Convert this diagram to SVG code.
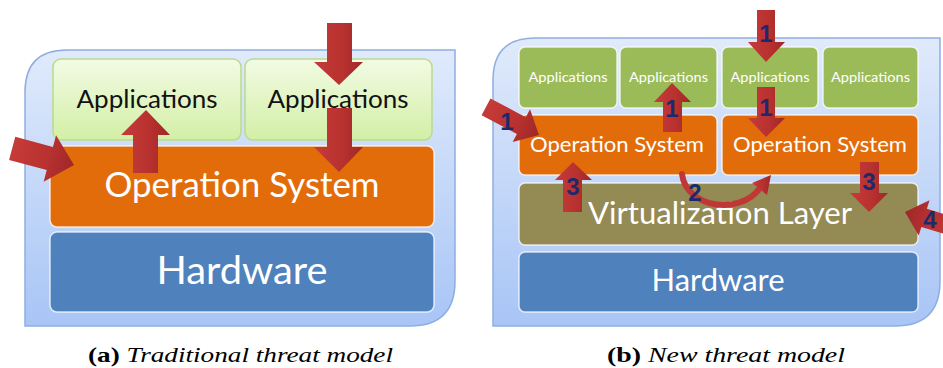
<svg xmlns="http://www.w3.org/2000/svg" width="943" height="368" viewBox="0 0 943 368">
  <defs>
    <linearGradient id="panelFill" x1="0" y1="0" x2="0" y2="1">
      <stop offset="0" stop-color="#e0eafb"/>
      <stop offset="1" stop-color="#a8c5f6"/>
    </linearGradient>
    <linearGradient id="appLight" x1="0" y1="0" x2="0" y2="1">
      <stop offset="0" stop-color="#f2fbe4"/>
      <stop offset="1" stop-color="#d3efa6"/>
    </linearGradient>
    <linearGradient id="arrowFill" x1="0" y1="0" x2="1" y2="0">
      <stop offset="0" stop-color="#c53b39"/>
      <stop offset="0.55" stop-color="#b93230"/>
      <stop offset="1" stop-color="#9f2728"/>
    </linearGradient>
  </defs>
  <style>
    .panel { fill: url(#panelFill); stroke: #8eaee0; stroke-width: 1.5; }
    .box { stroke: #ffffff; stroke-opacity: 0.75; stroke-width: 1.5; }
    .app-a { fill: url(#appLight); stroke: #b9dc8a; stroke-width: 1.5; }
    .app-b { fill: #9bbb59; }
    .os { fill: #e36c0a; }
    .virt { fill: #948a54; }
    .hw { fill: #4f81bd; }
    .lbl { font-family: Lato, "Open Sans", sans-serif; text-anchor: middle; fill: #ffffff; }
    .dark { fill: #111111; }
    .arrow { fill: url(#arrowFill); }
    .num { font-family: "Liberation Sans", Arial, sans-serif; font-weight: bold; font-size: 24px; fill: #1c2a6b; text-anchor: middle; }
    .cap { font-family: "Times New Roman", Times, "Liberation Serif", Tinos, "Noto Serif", serif; font-size: 21px; fill: #000000; }
  </style>

  <!-- (a) traditional stack -->
  <g id="panel-a">
    <path class="panel" d="M25,326 L25,92 Q25,50 67,50 L455,50 L455,281 Q455,326 410,326 Z"/>
  </g>
  <g id="a-app1">
    <rect class="app-a" x="53" y="59" width="188" height="81" rx="8"/>
    <text class="lbl dark" x="147" y="108" font-size="25" textLength="141" lengthAdjust="spacingAndGlyphs">Applications</text>
  </g>
  <g id="a-app2">
    <rect class="app-a" x="245" y="59" width="187" height="81" rx="8"/>
    <text class="lbl dark" x="338" y="108" font-size="25" textLength="141" lengthAdjust="spacingAndGlyphs">Applications</text>
  </g>
  <g id="a-os">
    <rect class="box os" x="50" y="146" width="384" height="81" rx="7"/>
    <text class="lbl" x="242" y="197" font-size="34" textLength="275" lengthAdjust="spacingAndGlyphs">Operation System</text>
  </g>
  <g id="a-hw">
    <rect class="box hw" x="50" y="232" width="384" height="80" rx="7"/>
    <text class="lbl" x="242" y="284" font-size="38" textLength="171" lengthAdjust="spacingAndGlyphs">Hardware</text>
  </g>

  <!-- (b) virtualised stack -->
  <g id="panel-b">
    <path class="panel" d="M493,326 L493,80 Q493,38 535,38 L940,38 L940,281 Q940,326 895,326 Z"/>
  </g>
  <g id="b-app1">
    <rect class="box app-b" x="519" y="47" width="98" height="61" rx="6"/>
    <text class="lbl" x="568" y="82" font-size="14" textLength="79" lengthAdjust="spacingAndGlyphs">Applications</text>
  </g>
  <g id="b-app2">
    <rect class="box app-b" x="620" y="47" width="97" height="61" rx="6"/>
    <text class="lbl" x="668.5" y="82" font-size="14" textLength="79" lengthAdjust="spacingAndGlyphs">Applications</text>
  </g>
  <g id="b-app3">
    <rect class="box app-b" x="722" y="47" width="96" height="61" rx="6"/>
    <text class="lbl" x="770" y="82" font-size="14" textLength="79" lengthAdjust="spacingAndGlyphs">Applications</text>
  </g>
  <g id="b-app4">
    <rect class="box app-b" x="823" y="47" width="95" height="61" rx="6"/>
    <text class="lbl" x="870.5" y="82" font-size="14" textLength="79" lengthAdjust="spacingAndGlyphs">Applications</text>
  </g>
  <g id="b-os1">
    <rect class="box os" x="519" y="115" width="198" height="60" rx="6"/>
    <text class="lbl" x="617" y="152" font-size="22" textLength="174" lengthAdjust="spacingAndGlyphs">Operation System</text>
  </g>
  <g id="b-os2">
    <rect class="box os" x="722" y="115" width="196" height="60" rx="6"/>
    <text class="lbl" x="820" y="152" font-size="22" textLength="174" lengthAdjust="spacingAndGlyphs">Operation System</text>
  </g>
  <g id="b-virt">
    <rect class="box virt" x="519" y="183" width="399" height="62" rx="6"/>
    <text class="lbl" x="720" y="224" font-size="31" textLength="264" lengthAdjust="spacingAndGlyphs">Virtualization Layer</text>
  </g>
  <g id="b-hw">
    <rect class="box hw" x="519" y="252" width="399" height="60" rx="6"/>
    <text class="lbl" x="718" y="291" font-size="30" textLength="133" lengthAdjust="spacingAndGlyphs">Hardware</text>
  </g>

  <!-- attack arrows -->
  <g id="connectors">
    <!-- (a) -->
    <polygon class="arrow" transform="translate(74,165) rotate(15)" points="-64,-12 -25,-12 -25,-24 0,0 -25,24 -25,12 -64,12"/>
    <polygon class="arrow" points="133,173 158,173 158,135 170,135 146,110 121,135 133,135"/>
    <polygon class="arrow" points="327,23 352,23 352,62 363,62 339,85 314,62 327,62"/>
    <polygon class="arrow" points="327,108 352,108 352,147 363,147 339,172 314,147 327,147"/>

    <!-- (b) -->
    <polygon class="arrow" transform="translate(539,135) rotate(28)" points="-60,-9.5 -20,-9.5 -20,-18.5 0,0 -20,18.5 -20,9.5 -60,9.5"/>
    <polygon class="arrow" points="663,132 682,132 682,102 691,102 672,83 654,102 663,102"/>
    <polygon class="arrow" points="757,10 775,10 775,42 785,42 766,62 748,42 757,42"/>
    <polygon class="arrow" points="757,87 775,87 775,118 785,118 766,137 748,118 757,118"/>
    <polygon class="arrow" points="563,212 582,212 582,180 592,180 573,162 555,180 563,180"/>
    <polygon class="arrow" points="860,162 879,162 879,193 888,193 869,212 850,193 860,193"/>
    <polygon class="arrow" transform="translate(905,212) rotate(197)" points="-60,-9.5 -20,-9.5 -20,-18.5 0,0 -20,18.5 -20,9.5 -60,9.5"/>
    <path d="M682,174 C686,208 740,216 760,188" fill="none" stroke="#c03836" stroke-width="6" stroke-linecap="round"/>
    <polygon class="arrow" points="752,183 771,175 767,195"/>

    <text class="num" x="766" y="42">1</text>
    <text class="num" x="766" y="116">1</text>
    <text class="num" x="672" y="117">1</text>
    <text class="num" x="507" y="130">1</text>
    <text class="num" x="695" y="201">2</text>
    <text class="num" x="573" y="195">3</text>
    <text class="num" x="869" y="190">3</text>
    <text class="num" x="930" y="228">4</text>
  </g>

  <!-- sub-figure captions -->
  <text class="cap" x="88" y="362" textLength="305" lengthAdjust="spacingAndGlyphs"><tspan font-weight="bold">(a)</tspan><tspan font-style="italic"> Traditional threat model</tspan></text>
  <text class="cap" x="607" y="362" textLength="238" lengthAdjust="spacingAndGlyphs"><tspan font-weight="bold">(b)</tspan><tspan font-style="italic"> New threat model</tspan></text>
</svg>
